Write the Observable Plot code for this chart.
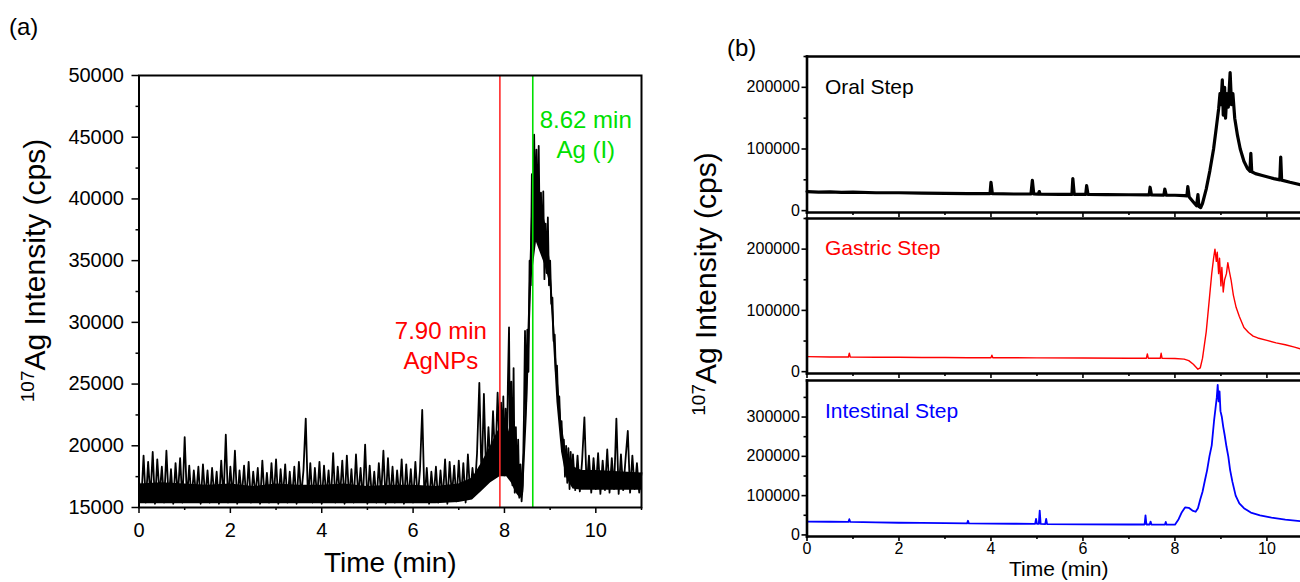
<!DOCTYPE html>
<html><head><meta charset="utf-8">
<script src="https://cdn.jsdelivr.net/npm/d3@7"></script>
<script src="https://cdn.jsdelivr.net/npm/@observablehq/plot@0.6"></script>
<style>
body{margin:0;background:#fff;}
#wrap{position:relative;width:1300px;height:582px;overflow:hidden;font-family:"Liberation Sans",Arial,sans-serif;background:#fff;}
.pane{position:absolute;}
.tag{position:absolute;font-size:24px;color:#000;line-height:1;}
</style></head><body>
<div id="wrap">
<div class="tag" style="left:9px;top:15px">(a)</div>
<div class="tag" style="left:727px;top:36px">(b)</div>
</div>
<script>
// ---------- Panel (a): 107Ag chromatogram [time (min), intensity (cps)] ----------
const panelA = [
[0,17200],[0.05,15500],[0.1,19200],[0.15,15400],[0.2,18700],[0.25,15800],[0.3,19500],[0.35,15300],[0.4,18900],[0.45,16000],
[0.5,18300],[0.55,15400],[0.6,19600],[0.65,15600],[0.7,18100],[0.75,15300],[0.8,18600],[0.85,15900],[0.9,19000],[0.95,15400],
[1,20700],[1.05,15600],[1.1,18400],[1.15,15500],[1.2,18000],[1.25,15900],[1.3,18300],[1.35,15300],[1.4,18500],[1.45,15700],
[1.5,18000],[1.55,15400],[1.6,18200],[1.65,15800],[1.7,17900],[1.75,15300],[1.8,18800],[1.85,15600],[1.9,20900],[1.95,15400],
[2,18300],[2.05,15700],[2.1,19600],[2.15,15300],[2.2,18000],[2.25,15800],[2.3,18400],[2.35,15500],[2.4,18700],[2.45,15400],
[2.5,17900],[2.55,15900],[2.6,18200],[2.65,15300],[2.7,18800],[2.75,15600],[2.8,17800],[2.85,15400],[2.9,18600],[2.95,15700],
[3,18900],[3.05,15300],[3.1,18100],[3.15,15800],[3.2,18500],[3.25,15400],[3.3,17900],[3.35,15600],[3.4,18300],[3.45,15300],
[3.5,18700],[3.55,15900],[3.6,18000],[3.65,22200],[3.7,15500],[3.75,18600],[3.8,15400],[3.85,18200],[3.9,15700],[3.95,18700],
[4,15300],[4.05,18400],[4.1,15800],[4.15,18000],[4.2,15500],[4.25,19400],[4.3,15400],[4.35,18300],[4.4,15900],[4.45,18800],
[4.5,15300],[4.55,19200],[4.6,15600],[4.65,18100],[4.7,15400],[4.75,19300],[4.8,15800],[4.85,18200],[4.9,15500],[4.95,20100],
[5,15300],[5.05,18400],[5.1,15700],[5.15,17900],[5.2,15400],[5.25,18600],[5.3,15900],[5.35,19600],[5.4,15300],[5.45,19000],
[5.5,15600],[5.55,18300],[5.6,15400],[5.65,18000],[5.7,15800],[5.75,18900],[5.8,15300],[5.85,18500],[5.9,15600],[5.95,18100],
[6,15400],[6.05,18700],[6.1,15700],[6.15,18000],[6.2,22900],[6.25,15500],[6.3,18200],[6.35,15300],[6.4,17900],[6.45,15800],
[6.5,18300],[6.55,15400],[6.6,18000],[6.65,15600],[6.7,18900],[6.75,15300],[6.8,18700],[6.85,15900],[6.9,18400],[6.95,15500],
[7,18800],[7.05,15700],[7.1,18600],[7.15,15400],[7.2,19300],[7.25,16000],[7.3,18200],[7.35,16400],[7.4,19400],[7.45,25100],
[7.5,17000],[7.55,24200],[7.6,17300],[7.65,21500],[7.7,18000],[7.75,22800],[7.8,18400],[7.85,24300],
[7.9,18900],[7.925,23500],[7.95,19500],[7.975,24000],[8,17600],[8.025,23000],[8.05,18200],[8.075,25000],[8.1,29600],[8.125,18000],
[8.15,25200],[8.175,16800],[8.2,26300],[8.225,16200],[8.25,21500],[8.275,16500],[8.3,20500],[8.325,15800],[8.35,18500],[8.375,15500],
[8.4,16800],[8.425,22000],[8.45,29300],[8.475,23500],[8.5,29400],[8.525,26000],[8.55,35000],[8.575,33000],[8.6,42000],[8.625,38000],
[8.65,45200],[8.675,39000],[8.7,44000],[8.725,37500],[8.75,44300],[8.775,36000],[8.8,40500],[8.825,35500],[8.85,40600],[8.875,33500],
[8.9,38000],[8.925,34000],[8.95,38500],[8.975,33000],[9,35000],[9.025,31500],[9.05,32000],[9.075,28500],[9.1,29000],[9.125,26000],
[9.15,26500],[9.175,23500],[9.2,24000],[9.225,21500],[9.25,22000],[9.275,19500],[9.3,20500],[9.325,17500],[9.35,20000],[9.375,17000],
[9.4,19800],[9.425,16500],[9.45,19500],[9.475,16800],
[9.5,19300],[9.55,16400],[9.6,19200],[9.65,16300],[9.7,18800],[9.75,22300],[9.8,16600],[9.85,19200],[9.9,16200],[9.95,19000],
[10,16500],[10.05,19400],[10.1,16100],[10.15,18800],[10.2,16400],[10.25,19700],[10.3,16200],[10.35,19000],[10.4,16500],[10.45,22200],
[10.5,16100],[10.55,19300],[10.6,16400],[10.65,18900],[10.7,21200],[10.75,16200],[10.8,19200],[10.85,16500],[10.9,18600],[10.95,16200],
[11,17800]
];
// dense noise core of the trace: [time (min), lower cps, upper cps]
const panelACore = [
[0,15300,16900],[0.5,15300,17000],[1,15300,16900],[1.5,15300,16800],[2,15300,16900],[2.5,15300,16700],[3,15300,16900],
[3.5,15300,16800],[4,15300,16800],[4.5,15300,16900],[5,15300,16700],[5.5,15300,16800],[6,15300,16800],[6.5,15300,16700],
[7,15400,16900],[7.3,15600,17400],[7.5,16300,18600],[7.7,17000,20000],[7.9,17500,21500],[8.05,17500,22000],[8.15,17000,20500],
[8.25,16200,17800],[8.35,15700,16800],[8.42,16200,19500],[8.5,22500,27500],[8.6,33500,39500],[8.7,36500,41500],[8.8,35500,39500],
[8.9,34500,38000],[9.0,33000,35000],[9.05,30000,32500],[9.15,23500,26500],[9.25,19500,22000],[9.35,17500,19500],[9.5,16500,18300],
[9.7,16400,18000],[10,16400,18000],[10.5,16400,17900],[11,16400,17800]
];
const timeTicksA = [0, 2, 4, 6, 8, 10];
const timeMinorA = [1, 3, 5, 7, 9, 11];
const intensityTicksA = [15000, 20000, 25000, 30000, 35000, 40000, 45000, 50000];
const intensityMinorA = [17500, 22500, 27500, 32500, 37500, 42500, 47500];
const markerNP = [{time: 7.90, label: "7.90 min\nAgNPs"}];
const markerIon = [{time: 8.62, label: "8.62 min\nAg (I)"}];

// ---------- Panel (b): digestion steps [time (min), intensity (cps)] ----------
const oral = [
[0,31000],[0.25,30000],[0.5,30500],[0.75,29500],[1,30000],[1.5,29000],[2,29000],[2.5,28500],[3,28000],[3.5,27500],
[3.98,27500],[4.0,46000],[4.03,27500],[4.5,27000],[4.87,27000],[4.9,49000],[4.93,27000],[5.03,26800],[5.05,31000],[5.07,26800],
[5.5,26500],[5.76,26500],[5.78,52000],[5.81,26500],[6.06,26300],[6.08,40500],[6.11,26300],[6.5,26000],[7,25800],[7.44,25500],
[7.46,38000],[7.49,25500],[7.76,25300],[7.78,35000],[7.81,25300],[8.0,25000],[8.2,24500],[8.26,24000],[8.28,39000],[8.31,22000],
[8.4,14000],[8.47,8000],[8.5,26000],[8.52,7000],[8.56,5000],[8.6,12000],[8.68,35000],[8.76,65000],[8.84,100000],[8.9,135000],
[8.95,165000],[8.98,190000],[9.0,172000],[9.03,212000],[9.05,155000],[9.08,200000],[9.1,150000],[9.13,190000],[9.16,168000],[9.2,224000],
[9.23,172000],[9.26,190000],[9.3,150000],[9.36,122000],[9.42,100000],[9.5,80000],[9.58,68000],[9.63,64000],[9.65,93000],[9.67,63000],
[9.75,60000],[9.9,57000],[10.0,55000],[10.15,52000],[10.28,50000],[10.3,87000],[10.32,49500],[10.5,46000],[10.73,42000]
];
const gastric = [
[0,24500],[0.5,24000],[0.9,24000],[0.92,30000],[0.94,24000],[1.5,23500],[2,23500],[2.5,23200],[3,23000],[3.5,22800],
[4.0,22800],[4.02,27000],[4.04,22800],[5,22500],[6,22200],[7,22000],[7.38,22000],[7.4,29000],[7.42,22000],[7.68,21800],
[7.7,30000],[7.72,21800],[8.0,21500],[8.2,20500],[8.3,18000],[8.4,12000],[8.5,4000],[8.55,6000],[8.6,22000],[8.68,65000],
[8.75,120000],[8.8,160000],[8.84,185000],[8.87,200000],[8.9,180000],[8.92,195000],[8.95,160000],[8.97,185000],[9.0,140000],[9.02,170000],
[9.05,130000],[9.08,150000],[9.12,160000],[9.15,178000],[9.18,165000],[9.22,150000],[9.27,125000],[9.33,105000],[9.4,90000],[9.5,72000],
[9.6,64000],[9.7,58000],[9.8,55000],[10,51000],[10.2,47000],[10.4,44000],[10.6,40000],[10.73,37000]
];
const intestinal = [
[0,34000],[0.5,33500],[0.9,33000],[0.92,40000],[0.94,33000],[1.5,32000],[2,31000],[2.5,30500],[3,30000],[3.48,29500],
[3.5,36000],[3.52,29500],[4,29000],[4.5,28500],[4.96,28000],[4.98,41000],[5.0,28000],[5.04,28000],[5.06,62000],[5.08,28000],
[5.18,27500],[5.2,41000],[5.22,27500],[6,27000],[7,26500],[7.34,26500],[7.36,50000],[7.38,26500],[7.45,26500],[7.47,34000],
[7.49,26500],[7.78,26000],[7.8,33000],[7.82,26000],[8.0,26000],[8.08,40000],[8.15,58000],[8.22,70000],[8.3,69000],[8.38,62000],
[8.45,59000],[8.5,68000],[8.55,90000],[8.6,110000],[8.65,138000],[8.7,165000],[8.75,200000],[8.8,228000],[8.85,290000],[8.88,320000],
[8.91,350000],[8.93,382000],[8.95,340000],[8.97,365000],[8.99,315000],[9.02,300000],[9.05,275000],[9.08,255000],[9.12,225000],[9.16,200000],
[9.2,165000],[9.25,135000],[9.32,100000],[9.4,80000],[9.5,68000],[9.65,57000],[9.85,50000],[10.1,44000],[10.4,39000],[10.73,35000]
];
const steps = [
  {name: "Oral Step", color: "#000000"},
  {name: "Gastric Step", color: "#ff0000"},
  {name: "Intestinal Step", color: "#0000ff"}
];
const timeTicksB = [0, 2, 4, 6, 8, 10];
const timeMinorB = [1, 3, 5, 7, 9];
const intensityTicksB = [0, 100000, 200000];
const intensityMinorB = [50000, 150000, 250000];
const intensityTicksC = [0, 100000, 200000, 300000];
const intensityMinorC = [50000, 150000, 250000, 350000];

const FONT = '"Liberation Sans", Arial, sans-serif';
const Y_TITLE = "107Ag Intensity (cps)";
const fmt = d3.format("d");
const baseStyle = {background: "transparent", overflow: "visible", fontFamily: FONT, color: "#000"};

function superscript(svg, supSize, lift) {
  d3.select(svg).selectAll("text").each(function () {
    if (this.textContent === Y_TITLE) {
      const t = d3.select(this);
      t.selectAll("*").remove();
      t.text(null);
      t.append("tspan").attr("font-size", supSize).attr("dy", -lift).text("107");
      t.append("tspan").attr("dy", lift).text("Ag Intensity (cps)");
    }
  });
}
function place(el, left, top) {
  const d = document.createElement("div");
  d.className = "pane";
  d.style.left = left + "px";
  d.style.top = top + "px";
  d.appendChild(el);
  document.getElementById("wrap").appendChild(d);
}

// ---------- Panel (a) ----------
const plotA = Plot.plot({
  width: 660, height: 582,
  marginLeft: 138.5, marginRight: 19, marginTop: 75, marginBottom: 75,
  style: baseStyle,
  x: {domain: [0, 11]},
  y: {domain: [15000, 50000]},
  marks: [
    Plot.areaY(panelACore, {x: d => d[0], y1: d => d[1], y2: d => d[2], fill: "#000", curve: "linear"}),
    Plot.line(panelA, {x: d => d[0], y: d => d[1], stroke: "#000", strokeWidth: 1.8}),
    Plot.ruleX(markerNP, {x: "time", stroke: "#ff2a2a", strokeWidth: 1.6}),
    Plot.ruleX(markerIon, {x: "time", stroke: "#00e000", strokeWidth: 1.6}),
    Plot.text(markerNP, {x: "time", y: 28200, text: "label", dx: -59, fill: "#ff0000", fontSize: 24, lineHeight: 1.25}),
    Plot.text(markerIon, {x: "time", y: 45340, text: "label", dx: 53, fill: "#00e000", fontSize: 24, lineHeight: 1.25}),
    Plot.frame({stroke: "#000", strokeWidth: 2}),
    Plot.axisX({ticks: timeTicksA, tickSize: 6, tickPadding: 9, fontSize: 20, tickFormat: fmt, label: null, strokeWidth: 1.5}),
    Plot.axisX({ticks: timeMinorA, tickSize: 3, fill: "none", label: null, strokeWidth: 1.5}),
    Plot.axisY({ticks: intensityTicksA, tickSize: 7, tickPadding: 8, fontSize: 20, tickFormat: fmt, label: null, strokeWidth: 1.5}),
    Plot.axisY({ticks: intensityMinorA, tickSize: 3, fill: "none", label: null, strokeWidth: 1.5}),
    Plot.text(["Time (min)"], {frameAnchor: "bottom", lineAnchor: "middle", dy: 56, fontSize: 28}),
    Plot.text([Y_TITLE], {frameAnchor: "left", dx: -104, dy: -21, rotate: -90, textAnchor: "middle", fontSize: 30})
  ]
});
superscript(plotA, 19, 11);
place(plotA, 0, 0);

// ---------- Panel (b) ----------
function stepPlot(data, step, cfg) {
  const marks = [
    Plot.line(data, {x: d => d[0], y: d => d[1], stroke: step.color, strokeWidth: cfg.lineWidth}),
    Plot.text([step.name], {frameAnchor: "top-left", lineAnchor: "middle", dx: 18, dy: cfg.nameDy, textAnchor: "start", fill: step.color, fontSize: 21}),
    Plot.frame({anchor: "left", stroke: "#000", strokeWidth: 2.6}),
    Plot.frame({anchor: "top", stroke: "#000", strokeWidth: 2.6}),
    Plot.frame({anchor: "bottom", stroke: "#000", strokeWidth: 2.6}),
    Plot.axisY({ticks: cfg.yTicks, tickSize: 5, tickPadding: 2, fontSize: 16, tickFormat: fmt, label: null, strokeWidth: 1.6}),
    Plot.axisY({ticks: cfg.yMinor, tickSize: 3, fill: "none", label: null, strokeWidth: 1.6}),
    cfg.labels
      ? Plot.axisX({ticks: timeTicksB, tickSize: 5, tickPadding: 1, fontSize: 16, tickFormat: fmt, label: null, strokeWidth: 1.6})
      : Plot.axisX({ticks: timeTicksB, tickSize: 5, fill: "none", label: null, strokeWidth: 1.6}),
    Plot.axisX({ticks: timeMinorB, tickSize: 3, fill: "none", label: null, strokeWidth: 1.6}),
    ...(cfg.extra || [])
  ];
  return Plot.plot({
    width: 620, height: cfg.height,
    marginLeft: 126.5, marginRight: 0, marginTop: cfg.top, marginBottom: cfg.bottom,
    style: baseStyle,
    x: {domain: [0, 10.73]},
    y: {domain: cfg.yDomain},
    marks
  });
}

const pOral = stepPlot(oral, steps[0], {
  height: 215, top: 56, bottom: 3, yDomain: [-3000, 250000], lineWidth: 3.2,
  yTicks: intensityTicksB, yMinor: intensityMinorB, nameDy: 31, labels: false
});
place(pOral, 680, 0);

const pGastric = stepPlot(gastric, steps[1], {
  height: 160, top: 3, bottom: 2, yDomain: [-3000, 250000], lineWidth: 1.4,
  yTicks: intensityTicksB, yMinor: intensityMinorB, nameDy: 30, labels: false,
  extra: [Plot.text([Y_TITLE], {frameAnchor: "left", dx: -101, dy: -12, rotate: -90, textAnchor: "middle", fontSize: 30})]
});
superscript(pGastric, 19, 11);
place(pGastric, 680, 215);

const pIntestinal = stepPlot(intestinal, steps[2], {
  height: 207, top: 5, bottom: 46, yDomain: [-4000, 393000], lineWidth: 1.8,
  yTicks: intensityTicksC, yMinor: intensityMinorC, nameDy: 31, labels: true,
  extra: [Plot.text(["Time (min)"], {frameAnchor: "bottom", lineAnchor: "middle", dy: 33, dx: 5, fontSize: 21})]
});
place(pIntestinal, 680, 375);
</script>
</body></html>
